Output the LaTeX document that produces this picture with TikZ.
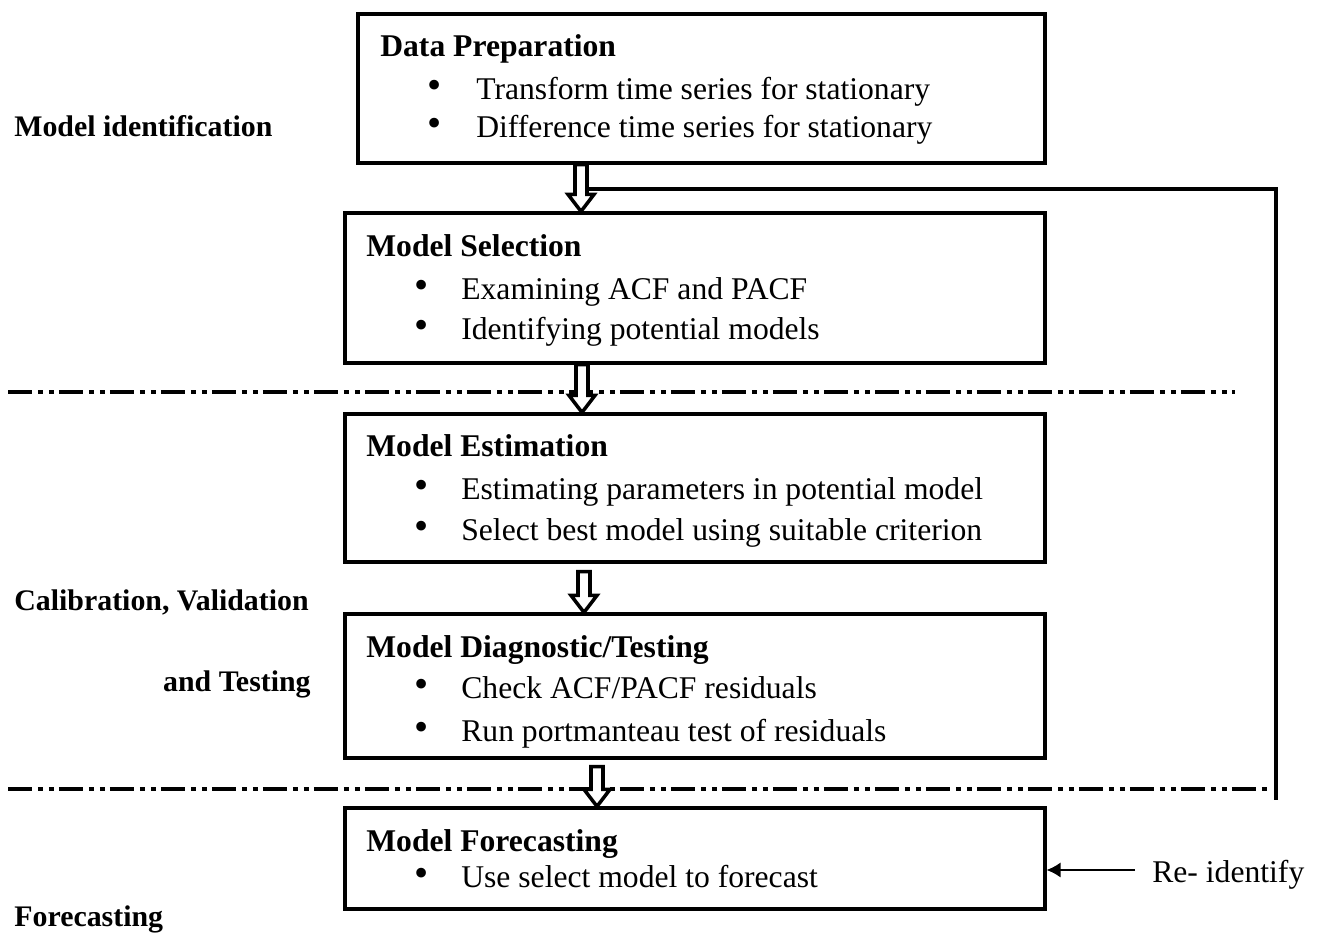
\documentclass[tikz,border=0pt]{standalone}
\usepackage{fontspec}
\setmainfont{Liberation Serif}
\usetikzlibrary{arrows.meta,calc,positioning}

\begin{document}
\begin{tikzpicture}[x=0.02cm,y=-0.02cm]
\fontsize{18}{22}\selectfont
\tikzstyle{box}=[draw=black, line width=1.8pt, inner sep=0pt]
\tikzstyle{txt}=[inner sep=0pt, anchor=base west]
\tikzstyle{head}=[txt, font=\bfseries]
\tikzstyle{dot}=[inner sep=0pt, anchor=base, font=\fontsize{23}{23}\selectfont]
\tikzstyle{side}=[inner sep=0pt, font=\fontsize{17}{20}\selectfont\bfseries]
\tikzstyle{cut}=[line width=2.2pt, dash pattern=on 0.48cm off 0.12cm on 0.1cm off 0.12cm on 0.1cm off 0.1cm]
\tikzstyle{flow}=[draw=black, fill=white, line width=2pt, line join=miter]
\tikzstyle{back}=[line width=2pt]
\useasboundingbox (0,0) rectangle (1320,935);
% boxes
\foreach \name/\cx/\cy/\w/\h in {b1/701.5/88.5/687/149, b2/695/288/700/150,
        b3/695/488/700/148, b4/695/686/700/144, b5/695/858.5/700/101}
    \node[box, minimum width=\w*0.02cm, minimum height=\h*0.02cm] (\name) at (\cx,\cy) {};
% titles
\node[head] (hd1) at (380,57) {Data Preparation};
\node[head] (hd2) at (366,257) {Model Selection};
\node[head] (hd3) at (366,457) {Model Estimation};
\node[head] (hd4) at (366,658) {Model Diagnostic/Testing};
\node[head] (hd5) at (366,852) {Model Forecasting};
% bullet lines
\foreach \nm/\bx/\tx/\by/\t in {p1/435/476/100/{Transform time series for stationary},
        p2/435/476/138/{Difference time series for stationary},
        s1/422/461/300/{Examining ACF and PACF},
        s2/422/461/340/{Identifying potential models},
        e1/422/461/500/{Estimating parameters in potential model},
        e2/422/461/541/{Select best model using suitable criterion},
        d1/422/461/699/{Check ACF/PACF residuals},
        d2/422/461/742/{Run portmanteau test of residuals},
        f1/422/461/888/{Use select model to forecast}}
    {
    \node[dot] (\nm-dot) at (\bx,\by-1) {\textbullet};
    \node[txt] (\nm) at (\tx,\by) {\t};
    }
% stage labels
\node[side, anchor=base west] (lbid) at (14,137) {Model identification};
\node[side, anchor=base west] (lbcal) at (14,611) {Calibration, Validation};
\node[side, anchor=base east] (lbtest) at (311,692) {and Testing};
\node[side, anchor=base west] (lbfc) at (14,927) {Forecasting};
% stage cuts
\coordinate (cutA1) at (8,392);
\coordinate (cutA2) at (1235,392);
\coordinate (cutB1) at (8,789);
\coordinate (cutB2) at (1272,789);
\draw[cut] (cutA1) -- (cutA2);
\draw[cut] (cutB1) -- (cutB2);
% hollow arrows between stages
\foreach \ax/\src/\dst/\gap in {581/b1/b2/0, 582/b2/b3/0, 584/b3/b4/8, 597/b4/b5/7}
    \draw[flow] let \p1 = (\ax,0), \p2 = (\src.south), \p3 = (\dst.north) in
        (\x1-0.12cm,\y2-\gap*0.02cm) -- (\x1-0.12cm,\y3+0.34cm) -- (\x1-0.26cm,\y3+0.34cm)
        -- (\x1,\y3) -- (\x1+0.26cm,\y3+0.34cm) -- (\x1+0.12cm,\y3+0.34cm)
        -- (\x1+0.12cm,\y2-\gap*0.02cm) -- cycle;
% feedback loop
\coordinate (fbend) at (1276,800);
\coordinate (fbjoin) at (588,189);
\draw[back] (fbend) |- (fbjoin);
% re-identify
\node[txt] (reid) at (1152,883) {Re- identify};
\coordinate (reidtail) at (1135,870);
\draw[line width=0.8pt, -{Latex[length=0.28cm, width=0.3cm]}] (reidtail) -- (b5.east |- reidtail);
\end{tikzpicture}
\end{document}
